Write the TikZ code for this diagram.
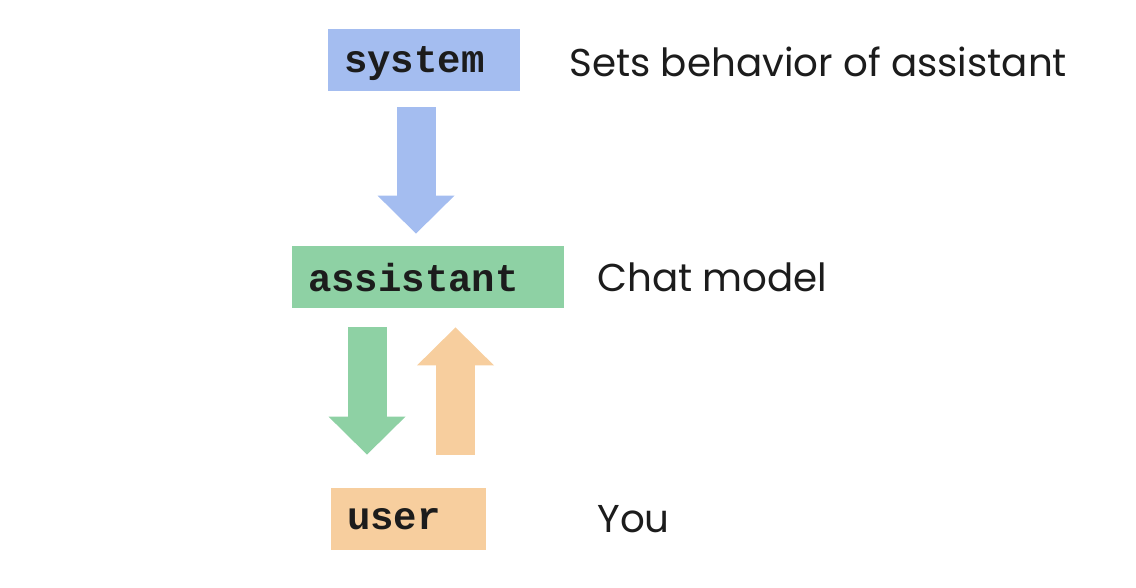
\documentclass[tikz,border=0pt]{standalone}
\usepackage{fontspec}
\setmainfont{Poppins}
\setmonofont{Liberation Mono}
\usetikzlibrary{arrows.meta}

\definecolor{roleblue}{RGB}{164,189,240}
\definecolor{rolegreen}{RGB}{142,209,164}
\definecolor{roleorange}{RGB}{247,206,158}
\definecolor{roletext}{RGB}{28,28,28}

\tikzset{
  rolebox/.style={rectangle, minimum height=31pt, inner xsep=8pt, inner ysep=0pt, text depth=0pt,
    align=left, text=roletext, font=\fontsize{19.5}{20}\selectfont\ttfamily\bfseries},
  rolenote/.style={anchor=west, inner sep=0pt, text=roletext, font=\fontsize{19.4}{20}\selectfont},
  flow/.style={line width=19.5pt, -{Triangle[width=38.5pt, length=19pt, line width=0pt]}}
}

\begin{document}
\begin{tikzpicture}[x=0.5pt, y=-0.5pt]
  \useasboundingbox (0,0) rectangle (1136,588);

  % Role boxes
  \node[rolebox, fill=roleblue, text width=80pt] (system) at (424,60) {system};
  \node[rolebox, fill=rolegreen, text width=120pt] (assistant) at (428,277) {assistant};
  \node[rolebox, fill=roleorange, text width=61.5pt] (user) at (408.5,519) {user};

  % Descriptions
  \node[rolenote] (systemnote) at (569,62) {Sets behavior of assistant};
  \node[rolenote] (assistantnote) at (597,277) {Chat model};
  \node[rolenote] (usernote) at (597,519) {You};

  % Arrows between roles
  \draw[flow, roleblue] ([xshift=-4pt, yshift=-8pt]system.south) -- ([xshift=-6pt, yshift=6pt]assistant.north);
  \draw[flow, rolegreen] ([xshift=-30.5pt, yshift=-9.5pt]assistant.south) -- ([xshift=-20.75pt, yshift=16.5pt]user.north);
  \draw[flow, roleorange] ([xshift=23.5pt, yshift=16.5pt]user.north) -- ([xshift=13.75pt, yshift=-9.5pt]assistant.south);
\end{tikzpicture}
\end{document}
